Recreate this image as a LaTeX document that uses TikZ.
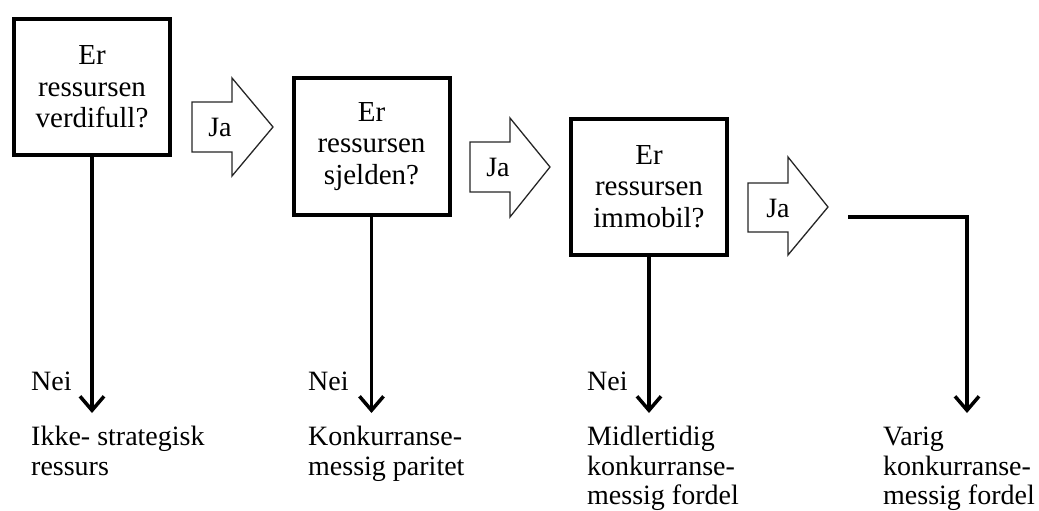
\documentclass[tikz,border=0pt]{standalone}
\usepackage{fontspec}
\setmainfont{Liberation Serif}
\usetikzlibrary{arrows.meta}
\begin{document}
\begin{tikzpicture}[x=1pt,y=-1pt,
  qbox/.style={draw, line width=4pt, minimum width=156pt, minimum height=136pt, align=center, inner sep=0pt, font=\fontsize{29}{31.5}\selectfont},
  blockarrow/.style={draw=black!85, line width=1.3pt, fill=white, line join=miter},
  jatext/.style={font=\fontsize{28}{31}\selectfont, anchor=base, inner sep=0pt},
  nei/.style={font=\fontsize{28}{30}\selectfont, anchor=base west, inner sep=0pt},
  lbl/.style={font=\fontsize{28}{29.5}\selectfont, anchor=north west, align=left, inner sep=0pt},
  down/.style={line width=3.5pt, -{Straight Barb[length=14pt,width=24pt,line width=3.5pt]}}
]
\useasboundingbox (0,0) rectangle (1039,511);

% question boxes
\node[qbox] (b1) at (92,87) {Er\\ressursen\\verdifull?};
\node[qbox] (b2) at (371.5,146.5) {Er\\ressursen\\sjelden?};
\node[qbox] (b3) at (649,186.5) {Er\\ressursen\\immobil?};

% block arrows
\draw[blockarrow] (192,102) -- (232,102) -- (232,78) -- (273,127) -- (232,176) -- (232,152) -- (192,152) -- cycle;
\node[jatext] (ja1) at (220,136) {Ja};
\draw[blockarrow] (470,142) -- (510,142) -- (510,118) -- (550,167) -- (510,217) -- (510,192) -- (470,192) -- cycle;
\node[jatext] (ja2) at (498,176) {Ja};
\draw[blockarrow] (748,183) -- (788,183) -- (788,157) -- (828,207) -- (788,255) -- (788,232) -- (748,232) -- cycle;
\node[jatext] (ja3) at (778,217) {Ja};

% end points
\coordinate (e1) at (92,413);
\coordinate (e2) at (371.5,413);
\coordinate (e3) at (649,413);
\coordinate (r1) at (848,217);
\coordinate (e4) at (967,413);

\draw[down] (b1.south) -- (e1);
\draw[down] (b2.south) -- (e2);
\draw[down] (b3.south) -- (e3);
\draw[down] (r1) -| (e4);

% labels
\node[nei] (n1) at (31,390) {Nei};
\node[nei] (n2) at (308,390) {Nei};
\node[nei] (n3) at (587,390) {Nei};

\node[lbl] (o1) at (31,425) {\strut Ikke- strategisk\\ressurs};
\node[lbl] (o2) at (308,425) {\strut Konkurranse-\\messig paritet};
\node[lbl] (o3) at (587,425) {\strut Midlertidig\\konkurranse-\\messig fordel};
\node[lbl] (o4) at (883,425) {\strut Varig\\konkurranse-\\messig fordel};
\end{tikzpicture}
\end{document}
